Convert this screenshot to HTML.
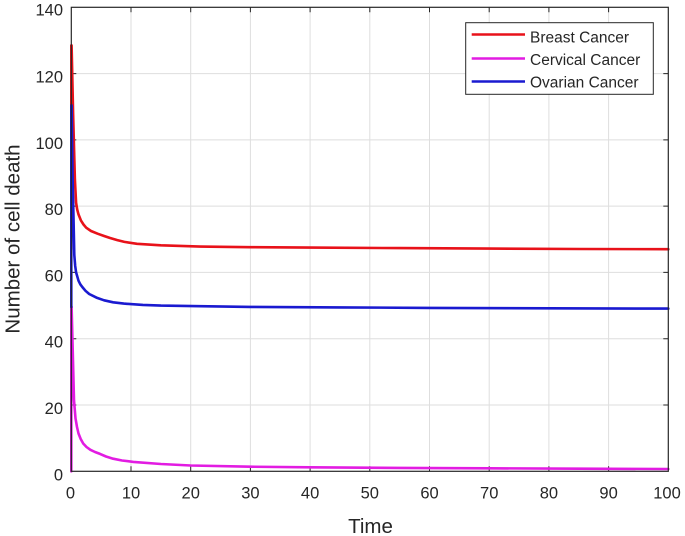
<!DOCTYPE html>
<html>
<head>
<meta charset="utf-8">
<style>
html,body{margin:0;padding:0;background:#fff;}
svg{display:block;}
text{font-family:"Liberation Sans",Arial,sans-serif;fill:#262626;}
</style>
</head>
<body>
<svg width="685" height="536" viewBox="0 0 685 536" xmlns="http://www.w3.org/2000/svg">
<rect x="0" y="0" width="685" height="536" fill="#fff"/>
<!-- grid -->
<g stroke="#dedede" stroke-width="1">
<line x1="131" y1="7.3" x2="131" y2="471.3"/>
<line x1="190.7" y1="7.3" x2="190.7" y2="471.3"/>
<line x1="250.4" y1="7.3" x2="250.4" y2="471.3"/>
<line x1="310.1" y1="7.3" x2="310.1" y2="471.3"/>
<line x1="369.8" y1="7.3" x2="369.8" y2="471.3"/>
<line x1="429.5" y1="7.3" x2="429.5" y2="471.3"/>
<line x1="489.2" y1="7.3" x2="489.2" y2="471.3"/>
<line x1="548.9" y1="7.3" x2="548.9" y2="471.3"/>
<line x1="608.6" y1="7.3" x2="608.6" y2="471.3"/>
<line x1="71.3" y1="405" x2="668.3" y2="405"/>
<line x1="71.3" y1="338.7" x2="668.3" y2="338.7"/>
<line x1="71.3" y1="272.4" x2="668.3" y2="272.4"/>
<line x1="71.3" y1="206.1" x2="668.3" y2="206.1"/>
<line x1="71.3" y1="139.9" x2="668.3" y2="139.9"/>
<line x1="71.3" y1="73.6" x2="668.3" y2="73.6"/>
</g>
<!-- ticks -->
<g stroke="#262626" stroke-width="1">
<path d="M131 471.3v-5M190.7 471.3v-5M250.4 471.3v-5M310.1 471.3v-5M369.8 471.3v-5M429.5 471.3v-5M489.2 471.3v-5M548.9 471.3v-5M608.6 471.3v-5"/>
<path d="M131 7.3v5M190.7 7.3v5M250.4 7.3v5M310.1 7.3v5M369.8 7.3v5M429.5 7.3v5M489.2 7.3v5M548.9 7.3v5M608.6 7.3v5"/>
<path d="M71.3 405h5M71.3 338.7h5M71.3 272.4h5M71.3 206.1h5M71.3 139.9h5M71.3 73.6h5"/>
<path d="M668.3 405h-5M668.3 338.7h-5M668.3 272.4h-5M668.3 206.1h-5M668.3 139.9h-5M668.3 73.6h-5"/>
</g>
<!-- series -->
<g fill="none" stroke-width="2.6" stroke-linejoin="round" stroke-linecap="round">
<polyline stroke="#e8121a" points="71.3,249.2 71.3,45.4 71.6,45.4 73.1,113.4 74.9,179.6 76.1,202.8 77.2,209.5 78.5,214.4 80.9,220.4 83.5,224.5 86.2,227.7 91,231 97.6,233.7 104.1,236 110.1,238 117.3,240.1 124.4,241.9 137,243.8 160.9,245.3 200.3,246.6 250,247.2 310.1,247.6 400,248.1 489.2,248.6 580,249 668.3,249.2"/>
<polyline stroke="#e21ce2" points="71.3,471.3 71.3,306.9 71.6,306.9 74.0,400.4 75.5,418.3 77,427 78.5,433.5 80.7,439 83.2,443.5 86.5,447 90.4,449.8 95,452 100,453.9 106,456.5 113.1,458.7 122,460.5 133.4,461.9 160.9,464 190.7,465.5 250,466.7 310,467.3 400,467.9 489,468.3 580,468.7 668.3,469"/>
<polyline stroke="#1a1ad0" points="71.3,306.9 71.3,105.4 71.6,105.4 72.5,173 73.4,212.8 74.3,255 75.2,266 76.1,272.4 78.5,280.7 80.3,284.3 82.3,287 85.5,290.8 89.2,294 96.4,297.6 104.1,300.3 113.1,302.3 123.8,303.6 142.9,304.9 160.9,305.6 200,306.2 250.4,306.9 340,307.4 429.5,307.9 550,308.3 668.3,308.6"/>
</g>
<!-- axes box -->
<rect x="71.3" y="7.3" width="597" height="464" fill="none" stroke="#262626" stroke-width="1.2"/>
<!-- y tick labels -->
<g font-size="16.5" text-anchor="end">
<text x="63" y="480.5">0</text>
<text x="63" y="414">20</text>
<text x="63" y="347.7">40</text>
<text x="63" y="281.4">60</text>
<text x="63" y="215.1">80</text>
<text x="63" y="148.9">100</text>
<text x="63" y="82.6">120</text>
<text x="63" y="15.3">140</text>
</g>
<!-- x tick labels -->
<g font-size="16.5" text-anchor="middle">
<text x="70.5" y="498.5">0</text>
<text x="131" y="498.5">10</text>
<text x="190.7" y="498.5">20</text>
<text x="250.4" y="498.5">30</text>
<text x="310.1" y="498.5">40</text>
<text x="369.8" y="498.5">50</text>
<text x="429.5" y="498.5">60</text>
<text x="489.2" y="498.5">70</text>
<text x="548.9" y="498.5">80</text>
<text x="608.6" y="498.5">90</text>
<text x="667" y="498.5">100</text>
</g>
<!-- axis titles -->
<text x="370.5" y="533" font-size="20.5" text-anchor="middle">Time</text>
<text x="0" y="0" font-size="20.5" text-anchor="middle" transform="translate(19.5,239) rotate(-90)">Number of cell death</text>
<!-- legend -->
<rect x="465.7" y="22.7" width="187.6" height="71.6" fill="#fff" stroke="#262626" stroke-width="1"/>
<g stroke-width="2.6">
<line x1="471.7" y1="34.5" x2="525" y2="34.5" stroke="#e8121a"/>
<line x1="471.7" y1="58.5" x2="525" y2="58.5" stroke="#e21ce2"/>
<line x1="471.7" y1="81.5" x2="525" y2="81.5" stroke="#1a1ad0"/>
</g>
<g font-size="15.5">
<text x="530" y="42.5">Breast Cancer</text>
<text x="530" y="65">Cervical Cancer</text>
<text x="530" y="87.5">Ovarian Cancer</text>
</g>
</svg>
</body>
</html>
